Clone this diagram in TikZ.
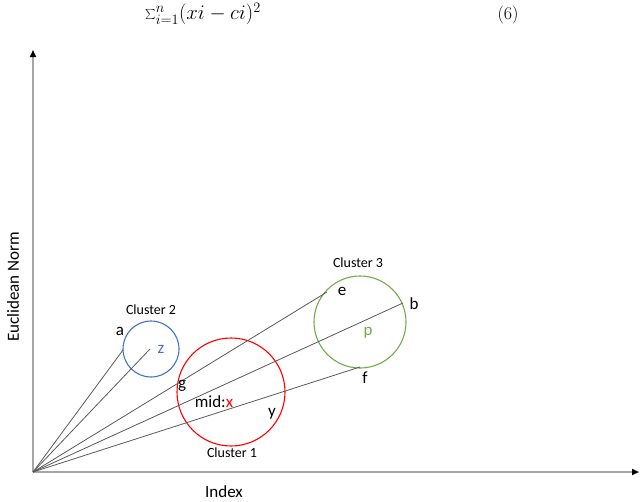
\documentclass[tikz,border=0pt]{standalone}
\usepackage{fontspec}
\setmainfont{Carlito}
\newfontfamily\lmr{Latin Modern Roman}
\usetikzlibrary{arrows.meta}
\definecolor{cred}{HTML}{FF0000}
\definecolor{cblue}{HTML}{4472C4}
\definecolor{cgreen}{HTML}{70AD47}
\definecolor{axisgray}{HTML}{A6A6A6}
\definecolor{linegray}{HTML}{595959}
\tikzset{
  axisline/.style={draw=axisgray, line width=1.6pt, -{Triangle[length=7pt,width=6pt,fill=black,color=black]}},
  ray/.style={draw=linegray, line width=0.8pt},
  clus/.style={circle, draw, line width=1.1pt, inner sep=0pt},
  clab/.style={font=\fontsize{14}{16}\selectfont, inner sep=0pt},
  plab/.style={font=\fontsize{17}{19}\selectfont, inner sep=0pt},
}
\begin{document}
\begin{tikzpicture}[x=1pt,y=-1pt]
\useasboundingbox (0,0) rectangle (640,501);
% formula
\node[inner sep=0pt, font=\fontsize{19.5}{22}\selectfont] (eq) at (203,14) {$\sum_{i=1}^{n}(xi-ci)^2$};
\node[inner sep=0pt, font=\lmr\fontsize{18}{20}\selectfont] (eqn) at (508,15) {(6)};
% axes
\coordinate (O) at (33,472);
\coordinate (ytop) at (33,50);
\coordinate (xend) at (639,472);
\draw[axisline] (O) -- (ytop);
\draw[axisline] (O) -- (xend);
\node[plab, rotate=90] (ylab) at (13,287) {Euclidean Norm};
\node[plab] (xlab) at (224,492) {Index};
% clusters
\node[clus, draw=cblue, minimum size=56pt] (c2) at (151,349) {};
\node[clus, draw=cred, minimum size=108pt] (c1) at (231,392) {};
\node[clus, draw=cgreen, minimum size=92pt] (c3) at (360,322) {};
% ray endpoints
\coordinate (ea) at (123,350);
\coordinate (ez) at (150,349);
\coordinate (ee) at (327,292);
\coordinate (eb) at (403,303);
\coordinate (ef) at (360,367);
\draw[ray] (O) -- (ea);
\draw[ray] (O) -- (ez);
\draw[ray] (O) -- (ee);
\draw[ray] (O) -- (eb);
\draw[ray] (O) -- (ef);
% labels
\node[clab] (l2) at (151,310) {Cluster 2};
\node[clab] (l3) at (358,263) {Cluster 3};
\node[clab] (l1) at (232,453) {Cluster 1};
\node[plab] (la) at (120,331) {a};
\node[plab, text=cblue] (lz) at (161,349) {z};
\node[plab] (le) at (342,291) {e};
\node[plab] (lb) at (414,304) {b};
\node[plab, text=cgreen] (lp) at (368,333) {p};
\node[plab] (lf) at (365,378) {f};
\node[plab] (lg) at (182,386) {g};
\node[plab] (lmid) at (214,402) {mid:\textcolor{cred}{x}};
\node[plab] (ly) at (272,414) {y};
\end{tikzpicture}
\end{document}
